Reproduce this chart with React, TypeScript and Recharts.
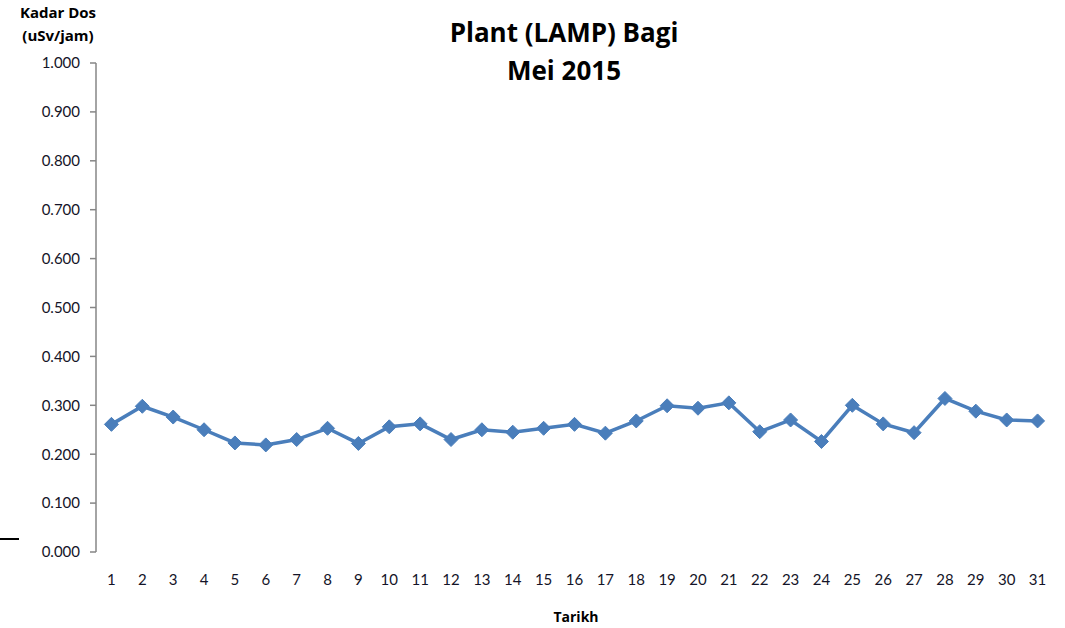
import React from "react";
import { LineChart, Line, XAxis, YAxis } from "recharts";

const days = [1,2,3,4,5,6,7,8,9,10,11,12,13,14,15,16,17,18,19,20,21,22,23,24,25,26,27,28,29,30,31];
const doseValues = [0.261,0.298,0.276,0.250,0.223,0.219,0.230,0.253,0.222,0.256,0.262,0.230,0.250,0.245,0.253,0.261,0.243,0.268,0.299,0.294,0.305,0.246,0.270,0.226,0.300,0.262,0.244,0.314,0.288,0.270,0.268];
const yTicks = [0,0.1,0.2,0.3,0.4,0.5,0.6,0.7,0.8,0.9,1.0];
const bandEdges = [0.5,1.5,2.5,3.5,4.5,5.5,6.5,7.5,8.5,9.5,10.5,11.5,12.5,13.5,14.5,15.5,16.5,17.5,18.5,19.5,20.5,21.5,22.5,23.5,24.5,25.5,26.5,27.5,28.5,29.5,30.5,31.5];

const titleLines = ["Plant (LAMP) Bagi", "Mei 2015"];
const yTitle = ["Kadar Dos", "(uSv/jam)"];
const xTitle = "Tarikh";

const data = days.map((d, i) => ({ day: d, dose: doseValues[i] }));

const FONT = "Lato, 'Open Sans', sans-serif";
const BOLDFONT = "'Open Sans', Lato, sans-serif";
const BLUE = "#4A7EBB";
const AXIS = "#868686";
const TEXT = "#141428";

const Diamond = (props: any) => {
  const { cx, cy } = props;
  if (cx == null || cy == null) return null;
  const r = 7;
  return (
    <polygon
      points={`${cx},${cy - r} ${cx + r},${cy} ${cx},${cy + r} ${cx - r},${cy}`}
      fill={BLUE}
      stroke={BLUE}
      strokeWidth={1}
    />
  );
};

export default function App() {
  return (
    <div style={{ position: "absolute", left: 0, top: 0, width: 1065, height: 628, background: "#fff", fontFamily: FONT }}>
      <LineChart
        width={1065}
        height={628}
        data={data}
        margin={{ top: 63, right: 12, bottom: 36, left: 0 }}
      >
        <XAxis
          xAxisId="edges"
          dataKey="day"
          type="number"
          domain={[0.5, 31.5]}
          ticks={bandEdges}
          interval={0}
          axisLine={{ stroke: AXIS, strokeWidth: 1.5 }}
          tickLine={{ stroke: AXIS, strokeWidth: 1.5 }}
          tickSize={6}
          tick={false}
          height={0}
        />
        <XAxis
          dataKey="day"
          type="number"
          domain={[0.5, 31.5]}
          ticks={days}
          interval={0}
          axisLine={false}
          tickLine={false}
          tick={{ fill: TEXT, fontSize: 15, fontFamily: FONT }}
          tickMargin={16}
          height={40}
        />
        <YAxis
          domain={[0, 1]}
          ticks={yTicks}
          interval={0}
          width={96}
          axisLine={{ stroke: AXIS, strokeWidth: 1.5 }}
          tickLine={{ stroke: AXIS, strokeWidth: 1.5 }}
          tickSize={6}
          tickMargin={10}
          tickFormatter={(v: number) => v.toFixed(3)}
          tick={{ fill: TEXT, fontSize: 15, fontFamily: FONT }}
        />
        <Line
          type="linear"
          dataKey="dose"
          stroke={BLUE}
          strokeWidth={3.5}
          dot={<Diamond />}
          activeDot={false}
          isAnimationActive={false}
        />
      </LineChart>

      <div style={{ position: "absolute", left: 364, top: 13, width: 400, textAlign: "center", fontWeight: 700, fontSize: 26, lineHeight: "38px", color: "#000", fontFamily: BOLDFONT }}>
        {titleLines.map((t) => (
          <div key={t}>{t}</div>
        ))}
      </div>

      <div style={{ position: "absolute", left: 8, top: 1, width: 100, textAlign: "center", fontWeight: 700, fontSize: 15, lineHeight: "23px", color: "#000", fontFamily: BOLDFONT }}>
        {yTitle.map((t) => (
          <div key={t}>{t}</div>
        ))}
      </div>

      <div style={{ position: "absolute", left: 476, top: 606, width: 200, textAlign: "center", fontWeight: 700, fontSize: 14, lineHeight: "22px", color: "#000", fontFamily: BOLDFONT }}>
        {xTitle}
      </div>

      <div style={{ position: "absolute", left: 0, top: 538, width: 19, height: 2, background: "#000" }} />
    </div>
  );
}
